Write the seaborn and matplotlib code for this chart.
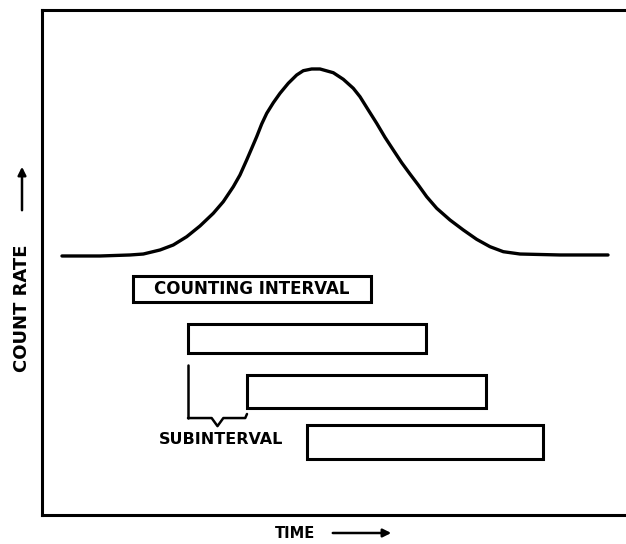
import matplotlib
matplotlib.use("Agg")
import matplotlib.pyplot as plt
import seaborn as sns

# peak (time and count rate in arbitrary units, 0-100)
time_pts = [3.42, 9.93, 15.07, 17.35, 20.21, 22.48, 24.78, 27.05, 29.33, 31.04,
            32.76, 33.90, 35.05, 35.91, 36.76, 37.62, 38.48, 39.61, 40.75, 42.17,
            43.61, 44.74, 46.18, 47.60, 49.88, 51.59, 53.30, 54.45, 55.87, 57.31,
            58.73, 60.15, 61.59, 63.01, 64.43, 65.87, 67.59, 69.86, 72.14, 74.43,
            76.71, 78.99, 81.85, 88.70, 96.92]
rate_pts = [51.29, 51.29, 51.49, 51.68, 52.48, 53.47, 55.11, 57.23, 59.74, 62.04,
            65.01, 67.33, 70.30, 72.61, 74.91, 77.43, 79.54, 81.64, 83.50, 85.49,
            87.13, 87.98, 88.32, 88.32, 87.58, 86.28, 84.50, 82.83, 80.20, 77.56,
            74.79, 72.28, 69.76, 67.52, 65.35, 63.03, 60.73, 58.42, 56.44, 54.59,
            53.13, 52.14, 51.68, 51.49, 51.49]

# counting intervals
interval_start = [15.6, 25.0, 35.1, 45.4]
interval_end = [56.3, 65.8, 76.0, 85.8]
interval_top = [47.3, 37.8, 27.7, 17.8]
interval_bottom = [42.2, 32.1, 21.2, 11.1]

sns.set_style("white")
plt.rcParams['font.family'] = ['DejaVu Sans']
plt.rcParams['text.color'] = 'black'

fig = plt.figure(figsize=(6.26, 5.44), dpi=100)
ax = fig.add_axes([42 / 626, 29 / 544, 584 / 626, 505 / 544])

sns.lineplot(x=time_pts, y=rate_pts, ax=ax, color='black', linewidth=2.4,
             sort=False, solid_joinstyle='round', solid_capstyle='round')

centers = [(t + b) / 2 for t, b in zip(interval_top, interval_bottom)]
heights = [t - b for t, b in zip(interval_top, interval_bottom)]
widths = [e - s for s, e in zip(interval_start, interval_end)]
ax.barh(centers, widths, height=heights, left=interval_start, fill=False,
        edgecolor='black', linewidth=2.2)

ax.text((interval_start[0] + interval_end[0]) / 2, centers[0],
        'COUNTING INTERVAL', ha='center', va='center', fontsize=12,
        fontweight='bold', color='black')

# bracket marking one subinterval
x0, x1 = interval_start[1], interval_start[2]
ax.plot([x0, x0], [29.7, 19.2], color='black', linewidth=1.8)
xm = (x0 + x1) / 2
ax.plot([x0, xm - 1.0, xm, xm + 1.0, x1 - 0.3, x1],
        [19.2, 19.2, 17.6, 19.2, 19.2, 20.0], color='black', linewidth=1.8)
ax.text(30.7, 14.9, 'SUBINTERVAL', ha='center', va='center', fontsize=11.5,
        fontweight='bold', color='black')

ax.set_xlim(0, 100)
ax.set_ylim(0, 100)
ax.set_xticks([])
ax.set_yticks([])
for side in ['top', 'left', 'bottom']:
    ax.spines[side].set_linewidth(2.2)
    ax.spines[side].set_color('black')
ax.spines['right'].set_visible(False)

fig.text(295 / 626, 11 / 544, 'TIME', ha='center', va='center',
         fontsize=10.5, fontweight='bold', color='black')
ax.annotate('', xy=(394, 11), xytext=(330, 11), xycoords='figure pixels',
            textcoords='figure pixels',
            arrowprops=dict(arrowstyle='-|>', color='black', lw=1.8,
                            mutation_scale=12))
fig.text(22 / 626, 236 / 544, 'COUNT RATE', ha='center', va='center',
         rotation=90, fontsize=13, fontweight='bold', color='black')
ax.annotate('', xy=(22, 380), xytext=(22, 331), xycoords='figure pixels',
            textcoords='figure pixels',
            arrowprops=dict(arrowstyle='-|>', color='black', lw=1.8,
                            mutation_scale=12))

fig.savefig('out.png', dpi=100)
